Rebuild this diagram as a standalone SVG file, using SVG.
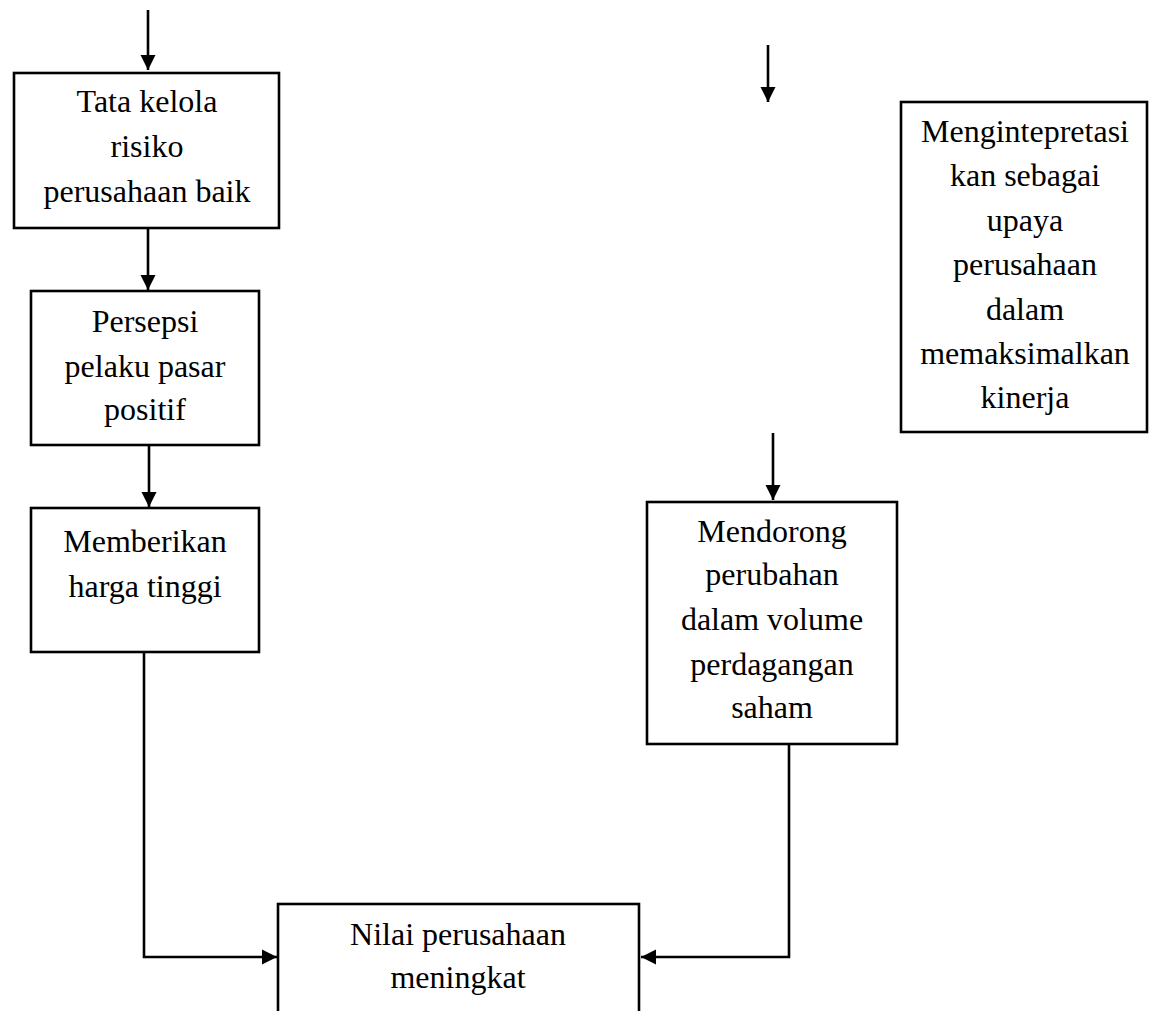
<svg xmlns="http://www.w3.org/2000/svg" width="1149" height="1011" viewBox="0 0 1149 1011">
<style>
.box{fill:#fff;stroke:#000;stroke-width:2.6}
.t{font-family:"Liberation Serif","Times New Roman",serif;font-size:32px;fill:#000;text-anchor:middle}
.c{fill:none;stroke:#000;stroke-width:2.6}
</style>
<defs>
<marker id="ah" markerUnits="userSpaceOnUse" markerWidth="16" markerHeight="16" refX="15" refY="8" orient="auto" viewBox="0 0 16 16">
<path d="M0,0.5 L15,8 L0,15.5 z" fill="#000"/>
</marker>
</defs>
<rect width="1149" height="1011" fill="#fff"/>
<g id="connectors">
<line class="c" x1="148" y1="10" x2="148" y2="70" marker-end="url(#ah)"/>
<line class="c" x1="148" y1="228" x2="148" y2="290" marker-end="url(#ah)"/>
<line class="c" x1="149" y1="445" x2="149" y2="507" marker-end="url(#ah)"/>
<line class="c" x1="768" y1="45" x2="768" y2="102" marker-end="url(#ah)"/>
<line class="c" x1="773" y1="433" x2="773" y2="500" marker-end="url(#ah)"/>
<polyline class="c" points="144,652 144,957 277,957" marker-end="url(#ah)"/>
<polyline class="c" points="789,744 789,957 641,957" marker-end="url(#ah)"/>
</g>
<g id="n1">
<rect class="box" x="14" y="73" width="265" height="155"/>
<text class="t" x="147" y="112">Tata kelola</text>
<text class="t" x="147" y="157">risiko</text>
<text class="t" x="147" y="202">perusahaan baik</text>
</g>
<g id="n2">
<rect class="box" x="31" y="291" width="228" height="154"/>
<text class="t" x="145" y="332">Persepsi</text>
<text class="t" x="145" y="377">pelaku pasar</text>
<text class="t" x="145" y="420">positif</text>
</g>
<g id="n3">
<rect class="box" x="31" y="508" width="228" height="144"/>
<text class="t" x="145" y="552">Memberikan</text>
<text class="t" x="145" y="597">harga tinggi</text>
</g>
<g id="n4">
<rect class="box" x="901" y="102" width="246" height="330"/>
<text class="t" x="1025" y="142">Mengintepretasi</text>
<text class="t" x="1025" y="186">kan sebagai</text>
<text class="t" x="1025" y="231">upaya</text>
<text class="t" x="1025" y="275">perusahaan</text>
<text class="t" x="1025" y="320">dalam</text>
<text class="t" x="1025" y="364">memaksimalkan</text>
<text class="t" x="1025" y="408">kinerja</text>
</g>
<g id="n5">
<rect class="box" x="647" y="502" width="250" height="242"/>
<text class="t" x="772" y="542">Mendorong</text>
<text class="t" x="772" y="585">perubahan</text>
<text class="t" x="772" y="630">dalam volume</text>
<text class="t" x="772" y="675">perdagangan</text>
<text class="t" x="772" y="718">saham</text>
</g>
<g id="n6">
<rect class="box" x="278" y="904" width="361" height="120"/>
<text class="t" x="458" y="945">Nilai perusahaan</text>
<text class="t" x="458" y="988">meningkat</text>
</g>
</svg>
